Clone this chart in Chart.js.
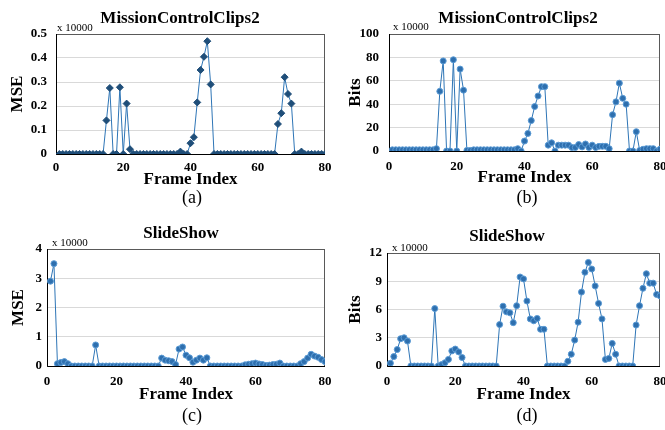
<!DOCTYPE html>
<html>
<head>
<meta charset="utf-8">
<script src="https://cdn.jsdelivr.net/npm/chart.js@4.4.0/dist/chart.umd.min.js"></script>
<style>
    body { margin: 0; background: #fff; }
    #wrap { position: relative; width: 665px; height: 430px; overflow: hidden; font-family: "Liberation Serif", "Times New Roman", serif; }
    canvas { position: absolute; }
    .lbl { position: absolute; transform: translate(-50%, -50%); white-space: nowrap; line-height: 1; color: #000; }
    .ttl { font-size: 17px; font-weight: bold; }
    .mul { font-size: 11px; transform: translate(0, -50%); }
    .cap { font-size: 18px; }
</style>
</head>
<body>
<div id="wrap">
    <canvas id="chartA" style="left:0;top:20px" width="332" height="180"></canvas>
    <canvas id="chartB" style="left:332px;top:20px" width="333" height="180"></canvas>
    <canvas id="chartC" style="left:0;top:225px" width="332" height="195"></canvas>
    <canvas id="chartD" style="left:332px;top:225px" width="333" height="195"></canvas>

    <div class="lbl ttl" style="left:180px;top:17px">MissionControlClips2</div>
    <div class="lbl ttl" style="left:518px;top:17px">MissionControlClips2</div>
    <div class="lbl ttl" style="left:181px;top:232px">SlideShow</div>
    <div class="lbl ttl" style="left:507px;top:235px">SlideShow</div>

    <div class="lbl mul" style="left:57px;top:27px">x 10000</div>
    <div class="lbl mul" style="left:393px;top:26px">x 10000</div>
    <div class="lbl mul" style="left:52px;top:242px">x 10000</div>
    <div class="lbl mul" style="left:392px;top:247px">x 10000</div>

    <div class="lbl cap" style="left:192px;top:197px">(a)</div>
    <div class="lbl cap" style="left:527px;top:197px">(b)</div>
    <div class="lbl cap" style="left:192px;top:415px">(c)</div>
    <div class="lbl cap" style="left:527px;top:415px">(d)</div>
</div>

<script>
// frame index 1..80
const frames = Array.from({ length: 80 }, (_, i) => i + 1);
const xTicks = [0, 20, 40, 60, 80];

// (a) MissionControlClips2 MSE (x 10000)
const mseMission = [
    0, 0, 0, 0, 0, 0, 0, 0, 0, 0, 0, 0, 0, 0,
    0.14, 0.275, 0, 0, 0.278, 0, 0.21, 0.02,
    0, 0, 0, 0, 0, 0, 0, 0, 0, 0, 0, 0, 0, 0,
    0.01, 0, 0, 0.045, 0.07, 0.215, 0.35, 0.405, 0.47, 0.29,
    0, 0, 0, 0, 0, 0, 0, 0, 0, 0, 0, 0, 0, 0, 0, 0, 0, 0, 0,
    0.125, 0.17, 0.32, 0.25, 0.21, 0, 0, 0.01,
    0, 0, 0, 0, 0, 0, 0
];

// (b) MissionControlClips2 Bits (x 10000)
const bitsMission = [
    1, 1, 1, 1, 1, 1, 1, 1, 1, 1, 1, 1, 1,
    2, 51, 77, 0, 0, 78, 0, 70, 52,
    0.5, 0.5, 1, 1, 1, 1, 1, 1, 1, 1, 1, 1, 1, 1, 1,
    2, 0, 8.5, 15, 26, 38, 47, 55, 55, 5, 7, 0, 5, 5, 5, 5, 3, 3, 5.5, 3.5, 6, 3, 5, 3, 4, 4, 4, 2,
    31, 42, 58, 45, 40, 0, 0, 16.5, 0.5, 1.5, 2, 2, 2, 0, 1.5
];

// (c) SlideShow MSE (x 10000)
const mseSlide = [
    2.9, 3.5, 0.08, 0.12, 0.15, 0.08,
    0, 0, 0, 0, 0, 0, 0,
    0.72,
    0, 0, 0, 0, 0, 0, 0, 0, 0, 0, 0, 0, 0, 0, 0, 0, 0, 0,
    0.27, 0.2, 0.18, 0.15, 0.05, 0.58, 0.65, 0.37, 0.28, 0.13, 0.2, 0.27, 0.2, 0.28,
    0, 0, 0, 0, 0, 0, 0, 0, 0, 0,
    0.04, 0.06, 0.08, 0.1, 0.07, 0.05, 0.02, 0.03, 0.05, 0.06, 0.1,
    0, 0, 0, 0, 0,
    0.08, 0.15, 0.27, 0.4, 0.34, 0.3, 0.22, 0.15
];

// (d) SlideShow Bits (x 10000)
const bitsSlide = [
    0.3, 1.0, 1.75, 2.9, 3.0, 2.65,
    0, 0, 0, 0, 0, 0, 0,
    6.1, 0, 0.15, 0.35, 0.7, 1.6, 1.8, 1.5, 0.9,
    0, 0, 0, 0, 0, 0, 0, 0, 0, 0,
    4.4, 6.35, 5.75, 5.65, 4.6, 6.4, 9.45, 9.25, 6.9, 5.0, 4.8, 5.05, 3.9, 3.9,
    0, 0, 0, 0, 0, 0,
    0.5, 1.25, 2.75, 4.65, 7.85, 9.95, 11.0, 10.3, 8.5, 6.65, 5.0, 0.7, 0.8, 2.4, 1.25,
    0, 0, 0, 0, 0,
    4.35, 6.4, 8.25, 9.8, 8.8, 8.8, 7.6, 7.45
];

const FONT = '"Liberation Serif", "Times New Roman", serif';

// gray box round the plot area
const plotFrame = {
    id: 'plotFrame',
    beforeDatasetsDraw(chart) {
        const { ctx, chartArea: a } = chart;
        ctx.save();
        ctx.strokeStyle = '#595959';
        ctx.lineWidth = 1;
        ctx.strokeRect(a.left + 0.5, a.top + 0.5, a.right - a.left - 1, a.bottom - a.top);
        ctx.strokeStyle = '#000';
        ctx.beginPath();
        ctx.moveTo(a.left + 0.5, a.top);
        ctx.lineTo(a.left + 0.5, a.bottom + 0.5);
        ctx.lineTo(a.right, a.bottom + 0.5);
        ctx.stroke();
        ctx.restore();
    }
};

function makePanel(id, values, p) {
    const ctx = document.getElementById(id).getContext('2d');
    return new Chart(ctx, {
        type: 'line',
        data: {
            labels: frames,
            datasets: [{
                data: values,
                borderColor: '#2e75b6',
                borderWidth: 1,
                pointStyle: p.point,
                pointRadius: p.radius,
                pointBackgroundColor: p.pointColor,
                pointBorderColor: p.pointBorder,
                pointBorderWidth: 1,
                tension: 0
            }]
        },
        options: {
            animation: false,
            responsive: false,
            layout: { padding: { top: p.padTop, right: p.padRight, left: 0, bottom: 0 } },
            plugins: { legend: { display: false }, tooltip: { enabled: false } },
            scales: {
                x: {
                    type: 'linear',
                    min: 0, max: 80,
                    afterBuildTicks: s => { s.ticks = xTicks.map(v => ({ value: v })); },
                    afterFit: s => { s.height = p.xHeight; s.paddingLeft = 0; s.paddingRight = 0; },
                    grid: { display: false, drawTicks: false },
                    border: { display: false },
                    ticks: { padding: p.xTickPad, color: '#000', font: { family: FONT, size: 13, weight: 'bold' }, maxRotation: 0 },
                    title: { display: true, text: 'Frame Index', color: '#000', padding: { top: 0, bottom: p.xTitlePad }, font: { family: FONT, size: 17, weight: 'bold' } }
                },
                y: {
                    min: 0, max: p.yMax,
                    afterBuildTicks: s => { s.ticks = p.yTicks.map(v => ({ value: v })); },
                    afterFit: s => { s.width = p.yWidth; s.paddingTop = 0; s.paddingBottom = 0; },
                    grid: { color: '#d9d9d9', lineWidth: 1, drawTicks: false },
                    border: { display: false },
                    ticks: { padding: p.yTickPad, color: '#000', font: { family: FONT, size: 13, weight: 'bold' } },
                    title: { display: true, text: p.yTitle, color: '#000', padding: { top: p.yTitlePad, bottom: 0 }, font: { family: FONT, size: 17, weight: 'bold' } }
                }
            }
        },
        plugins: [plotFrame]
    });
}

makePanel('chartA', mseMission, {
    yTitle: 'MSE', yMax: 0.5, yTicks: [0, 0.1, 0.2, 0.3, 0.4, 0.5],
    point: 'rectRot', radius: 3.5, pointColor: '#1f4e79', pointBorder: '#1f4e79',
    padTop: 14, padRight: 7, yWidth: 56, xHeight: 46,
    xTickPad: 6, xTitlePad: 10, yTickPad: 9, yTitlePad: 7
});

makePanel('chartB', bitsMission, {
    yTitle: 'Bits', yMax: 100, yTicks: [0, 20, 40, 60, 80, 100],
    point: 'circle', radius: 3, pointColor: '#2e6fae', pointBorder: '#5b9bd5',
    padTop: 14, padRight: 2, yWidth: 57, xHeight: 49,
    xTickPad: 8, xTitlePad: 12, yTickPad: 10, yTitlePad: 13
});

makePanel('chartC', mseSlide, {
    yTitle: 'MSE', yMax: 4, yTicks: [0, 1, 2, 3, 4],
    point: 'circle', radius: 3, pointColor: '#2e6fae', pointBorder: '#5b9bd5',
    padTop: 24, padRight: 7, yWidth: 47, xHeight: 54,
    xTickPad: 8, xTitlePad: 15, yTickPad: 5, yTitlePad: 8
});

makePanel('chartD', bitsSlide, {
    yTitle: 'Bits', yMax: 12, yTicks: [0, 3, 6, 9, 12],
    point: 'circle', radius: 3, pointColor: '#2e6fae', pointBorder: '#5b9bd5',
    padTop: 28, padRight: 2, yWidth: 55, xHeight: 54,
    xTickPad: 8, xTitlePad: 15, yTickPad: 5, yTitlePad: 13
});
</script>
</body>
</html>
